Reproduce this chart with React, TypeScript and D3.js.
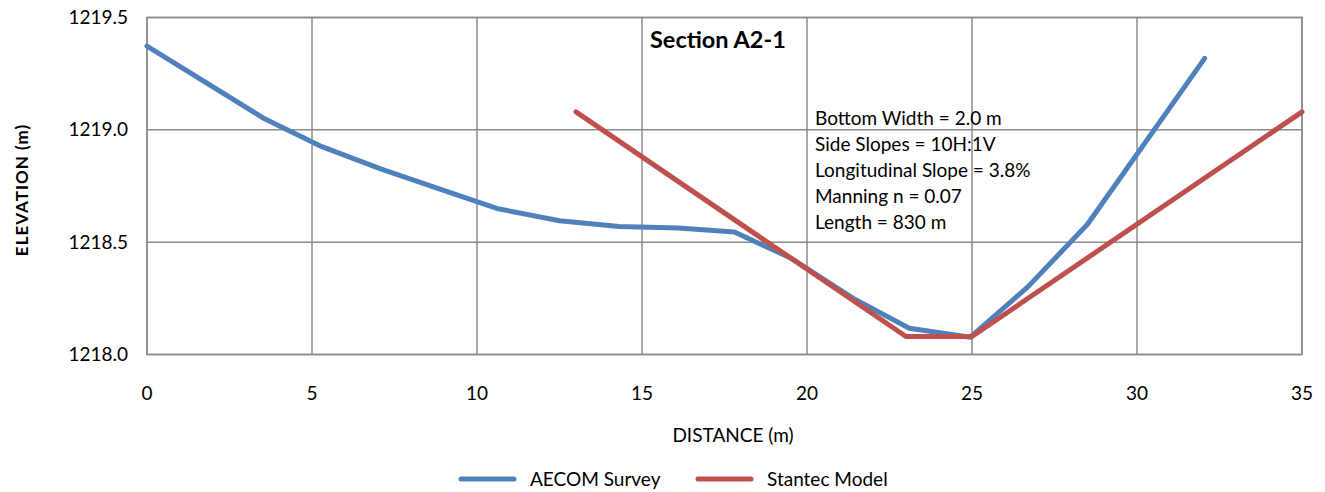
import React from "react";
import * as d3 from "d3";

const surveyDistance = [0, 3.55, 5.3, 7.1, 8.9, 10.6, 12.5, 14.3, 16.1, 17.8, 19.5, 21.4, 23.1, 24.95, 26.7, 28.5, 32.05];
const surveyElevation = [1219.373, 1219.05, 1218.925, 1218.825, 1218.735, 1218.65, 1218.595, 1218.57, 1218.563, 1218.545, 1218.43, 1218.25, 1218.117, 1218.077, 1218.302, 1218.58, 1219.318];

const modelDistance = [13, 23, 25, 35];
const modelElevation = [1219.08, 1218.08, 1218.08, 1219.08];

const xTicks = [0, 5, 10, 15, 20, 25, 30, 35];
const yTicks = [1218.0, 1218.5, 1219.0, 1219.5];

const annotations = [
  "Bottom Width = 2.0 m",
  "Side Slopes = 10H:1V",
  "Longitudinal Slope = 3.8%",
  "Manning n = 0.07",
  "Length = 830 m",
];

const W = 1325;
const H = 492;
const left = 147, right = 1302, top = 17.5, bottom = 354.5;
const FONT = "Lato, 'Open Sans', sans-serif";

export default function App() {
  const x = d3.scaleLinear().domain([0, 35]).range([left, right]);
  const y = d3.scaleLinear().domain([1218.0, 1219.5]).range([bottom, top]);
  const line = d3.line<[number, number]>().x(d => x(d[0])).y(d => y(d[1]));
  const survey = surveyDistance.map((d, i) => [d, surveyElevation[i]] as [number, number]);
  const model = modelDistance.map((d, i) => [d, modelElevation[i]] as [number, number]);
  const grid = "#8c8c8c";
  const blue = "#4f81bd";
  const red = "#c0504d";
  return (
    <svg width={W} height={H} style={{ position: "absolute", left: 0, top: 0 }} fontFamily={FONT}>
      <rect x={0} y={0} width={W} height={H} fill="#fff" />
      {xTicks.map(t => (
        <line key={"gx" + t} x1={x(t)} x2={x(t)} y1={top} y2={bottom} stroke={grid} strokeWidth={1.5} />
      ))}
      {yTicks.map(t => (
        <line key={"gy" + t} x1={left} x2={right} y1={y(t)} y2={y(t)} stroke={grid} strokeWidth={1.5} />
      ))}
      <rect x={left} y={top} width={right - left} height={bottom - top} fill="none" stroke={grid} strokeWidth={1.5} />
      {yTicks.map(t => (
        <text key={"ty" + t} x={128} y={y(t)} dy="0.35em" textAnchor="end" fontSize={19} fill="#000">
          {t.toFixed(1)}
        </text>
      ))}
      {xTicks.map(t => (
        <text key={"tx" + t} x={x(t)} y={393} dy="0.35em" textAnchor="middle" fontSize={19} fill="#000">
          {t}
        </text>
      ))}
      <text x={733} y={435} dy="0.35em" textAnchor="middle" fontSize={19} fill="#000">DISTANCE (m)</text>
      <text transform={`translate(22,${(top + bottom) / 2 + 4}) rotate(-90)`} dy="0.35em" textAnchor="middle" fontSize={17} fontWeight="bold" letterSpacing={1} fill="#000">
        ELEVATION (m)
      </text>
      <path d={line(survey) || ""} fill="none" stroke={blue} strokeWidth={5} strokeLinejoin="round" strokeLinecap="round" />
      <path d={line(model) || ""} fill="none" stroke={red} strokeWidth={5} strokeLinejoin="round" strokeLinecap="round" />
      <text x={650} y={40} dy="0.35em" fontSize={23.5} fontWeight="bold" fill="#000">Section A2-1</text>
      {annotations.map((a, i) => (
        <text key={a} x={815} y={118 + i * 26} dy="0.35em" fontSize={19} fill="#000">{a}</text>
      ))}
      <line x1={461} x2={514} y1={479} y2={479} stroke={blue} strokeWidth={5} strokeLinecap="round" />
      <text x={530} y={479} dy="0.35em" fontSize={19} fill="#000">AECOM Survey</text>
      <line x1={698} x2={751} y1={479} y2={479} stroke={red} strokeWidth={5} strokeLinecap="round" />
      <text x={767} y={479} dy="0.35em" fontSize={19} fill="#000">Stantec Model</text>
    </svg>
  );
}
